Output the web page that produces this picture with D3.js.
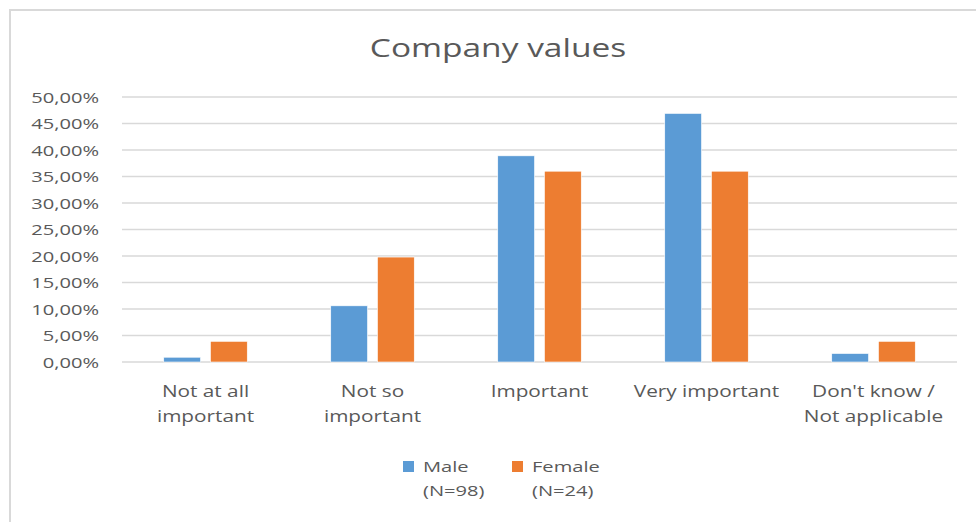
<!DOCTYPE html>
<html><head><meta charset="utf-8">
<script src="https://cdn.jsdelivr.net/npm/d3@7"></script>
<style>body{margin:0;background:#fff;} svg{display:block;}</style>
</head><body>
<svg id="c" width="976" height="522"></svg>
<script>
const title = "Company values";
const categories = [["Not at all","important"],["Not so","important"],["Important"],["Very important"],["Don't know /","Not applicable"]];
const seriesNames = [["Male","(N=98)"],["Female","(N=24)"]];
const male = [0.9, 10.6, 38.9, 46.9, 1.6];
const female = [3.9, 19.8, 36.0, 36.0, 3.9];
const yTicks = [0,5,10,15,20,25,30,35,40,45,50];
const colors = ["#5b9bd5","#ed7d31"];

(function(){
const svg = d3.select("#c");
const font = "'Open Sans', sans-serif";
const txt = "#595959";
const sx = 1.34;

svg.append("path").attr("d","M10,522 L10,10 L976,10").attr("fill","none").attr("stroke","#d9d9d9").attr("stroke-width",2);

const pL = 122, pR = 957, pT = 97, pB = 362;
const x = d3.scaleBand().domain(d3.range(categories.length)).range([pL,pR]).paddingInner(0.5).paddingOuter(0.25);
const y = d3.scaleLinear().domain([0,50]).range([pB, pT]);

svg.append("g").selectAll("line").data(yTicks).join("line")
  .attr("x1",pL).attr("x2",pR).attr("y1",d=>y(d)).attr("y2",d=>y(d))
  .attr("stroke","#d9d9d9").attr("stroke-width",1.3);

const yAxis = d3.axisLeft(y).tickValues(yTicks).tickSize(0).tickPadding(0)
  .tickFormat(d=>d.toFixed(2).replace(".",",")+"%");
const ga = svg.append("g").attr("transform",`translate(99,0)`).call(yAxis);
ga.select(".domain").remove();
ga.selectAll("text").attr("x",0).attr("font-family",font).attr("font-size",15).attr("fill",txt).attr("dy","0.35em")
  .attr("transform",`scale(${sx},1)`);

const x1 = d3.scaleBand().domain([0,1]).range([0,x.bandwidth()]).paddingInner(0.213);
[male,female].forEach((vals,si)=>{
  svg.append("g").selectAll("rect").data(vals).join("rect")
    .attr("x",(d,i)=>x(i)+x1(si)).attr("width",x1.bandwidth())
    .attr("y",d=>y(d)).attr("height",d=>y(0)-y(d))
    .attr("fill",colors[si]).attr("stroke","#fff").attr("stroke-width",0.6);
});

const gx = svg.append("g");
categories.forEach((lines,i)=>{
  const t = gx.append("text").attr("transform",`translate(${x(i)+x.bandwidth()/2},397) scale(${sx},1)`)
    .attr("text-anchor","middle").attr("font-family",font).attr("font-size",15.5).attr("fill",txt);
  lines.forEach((l,j)=>t.append("tspan").attr("x",0).attr("dy",j?25:0).text(l));
});

svg.append("text").attr("transform",`translate(498,57) scale(${sx},1)`).attr("text-anchor","middle")
  .attr("font-family",font).attr("font-size",25).attr("fill",txt).text(title);

const lx = [403,512];
seriesNames.forEach((n,i)=>{
  svg.append("rect").attr("x",lx[i]).attr("y",461).attr("width",11).attr("height",11).attr("fill",colors[i]);
  const t = svg.append("text").attr("transform",`translate(${lx[i]+20},472) scale(${sx},1)`).attr("font-family",font).attr("font-size",15).attr("fill",txt);
  n.forEach((l,j)=>t.append("tspan").attr("x",0).attr("dy",j?24:0).text(l));
});
})();
</script>
</body></html>
